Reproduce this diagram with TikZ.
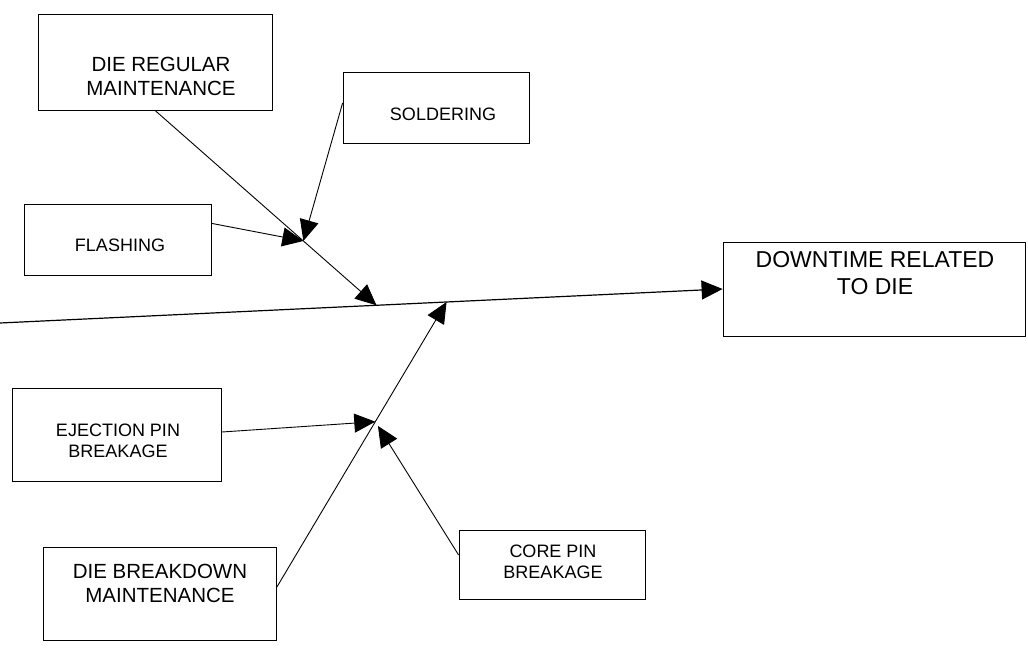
\documentclass[tikz,border=0pt]{standalone}
\usepackage{fontspec}
\setmainfont{Liberation Sans}
\usetikzlibrary{calc}
\usetikzlibrary{arrows.meta}

\begin{document}
\begin{tikzpicture}
    [x=1pt, y=-1pt,
     cause/.style={rectangle, draw=black, line width=0.8pt},
     bone/.style={draw=black, line width=0.9pt, -{Triangle[length=21pt, width=19pt]}},
     small/.style={font=\fontsize{18}{21}\selectfont, align=center},
     mid/.style={font=\fontsize{20.5}{24}\selectfont, align=center},
     big/.style={font=\fontsize{23}{27}\selectfont, align=center}]
    \useasboundingbox (0,0) rectangle (1028,652);
    % boxes
    \node(reg)[cause, minimum width=234pt, minimum height=96pt] at (155,62) {};
    \node(sold)[cause, minimum width=186pt, minimum height=71pt] at (436,108) {};
    \node(flash)[cause, minimum width=187pt, minimum height=71pt] at (118,240) {};
    \node(head)[cause, minimum width=302pt, minimum height=94pt] at (874,289) {};
    \node(eject)[cause, minimum width=209pt, minimum height=93pt] at (117,435) {};
    \node(bkd)[cause, minimum width=233pt, minimum height=93pt] at (160,594) {};
    \node(core)[cause, minimum width=186pt, minimum height=69pt] at (552,565) {};
    % labels
    \node(reg-t)[mid] at (161,76) {DIE REGULAR\\MAINTENANCE};
    \node(sold-t)[small] at (443,114) {SOLDERING};
    \node(flash-t)[small] at (120,245) {FLASHING};
    \node(head-t)[big] at (875,273) {DOWNTIME RELATED\\TO DIE};
    \node(eject-t)[small] at (118,441) {EJECTION PIN\\BREAKAGE};
    \node(bkd-t)[mid] at (160,583) {DIE BREAKDOWN\\MAINTENANCE};
    \node(core-t)[small] at (553,562) {CORE PIN\\BREAKAGE};
    % spine
    \coordinate (tail) at (0,323);
    \draw[bone, line width=1.2pt] (tail) -- (head.west);
    \coordinate (tipR) at ($(tail)!0.521!(head.west)$);
    \coordinate (tipB) at ($(tail)!0.618!(head.west)$);
    % upper bone
    \coordinate (jt) at ($(reg.south)!0.67!(tipR)$);
    \draw[bone] (reg.south) -- (tipR);
    \draw[bone] (flash.10) -- (jt);
    \draw[bone] ([yshift=5pt]sold.west) -- (jt);
    % lower bone
    \coordinate (bk0) at ([yshift=7pt]bkd.east);
    \coordinate (jb) at ($(bk0)!0.58!(tipB)$);
    \draw[bone] (bk0) -- (tipB);
    \draw[bone] ([yshift=3pt]eject.east) -- (jb);
    \draw[bone, shorten >=5pt] ([yshift=10pt]core.west) -- (jb);
\end{tikzpicture}
\end{document}
